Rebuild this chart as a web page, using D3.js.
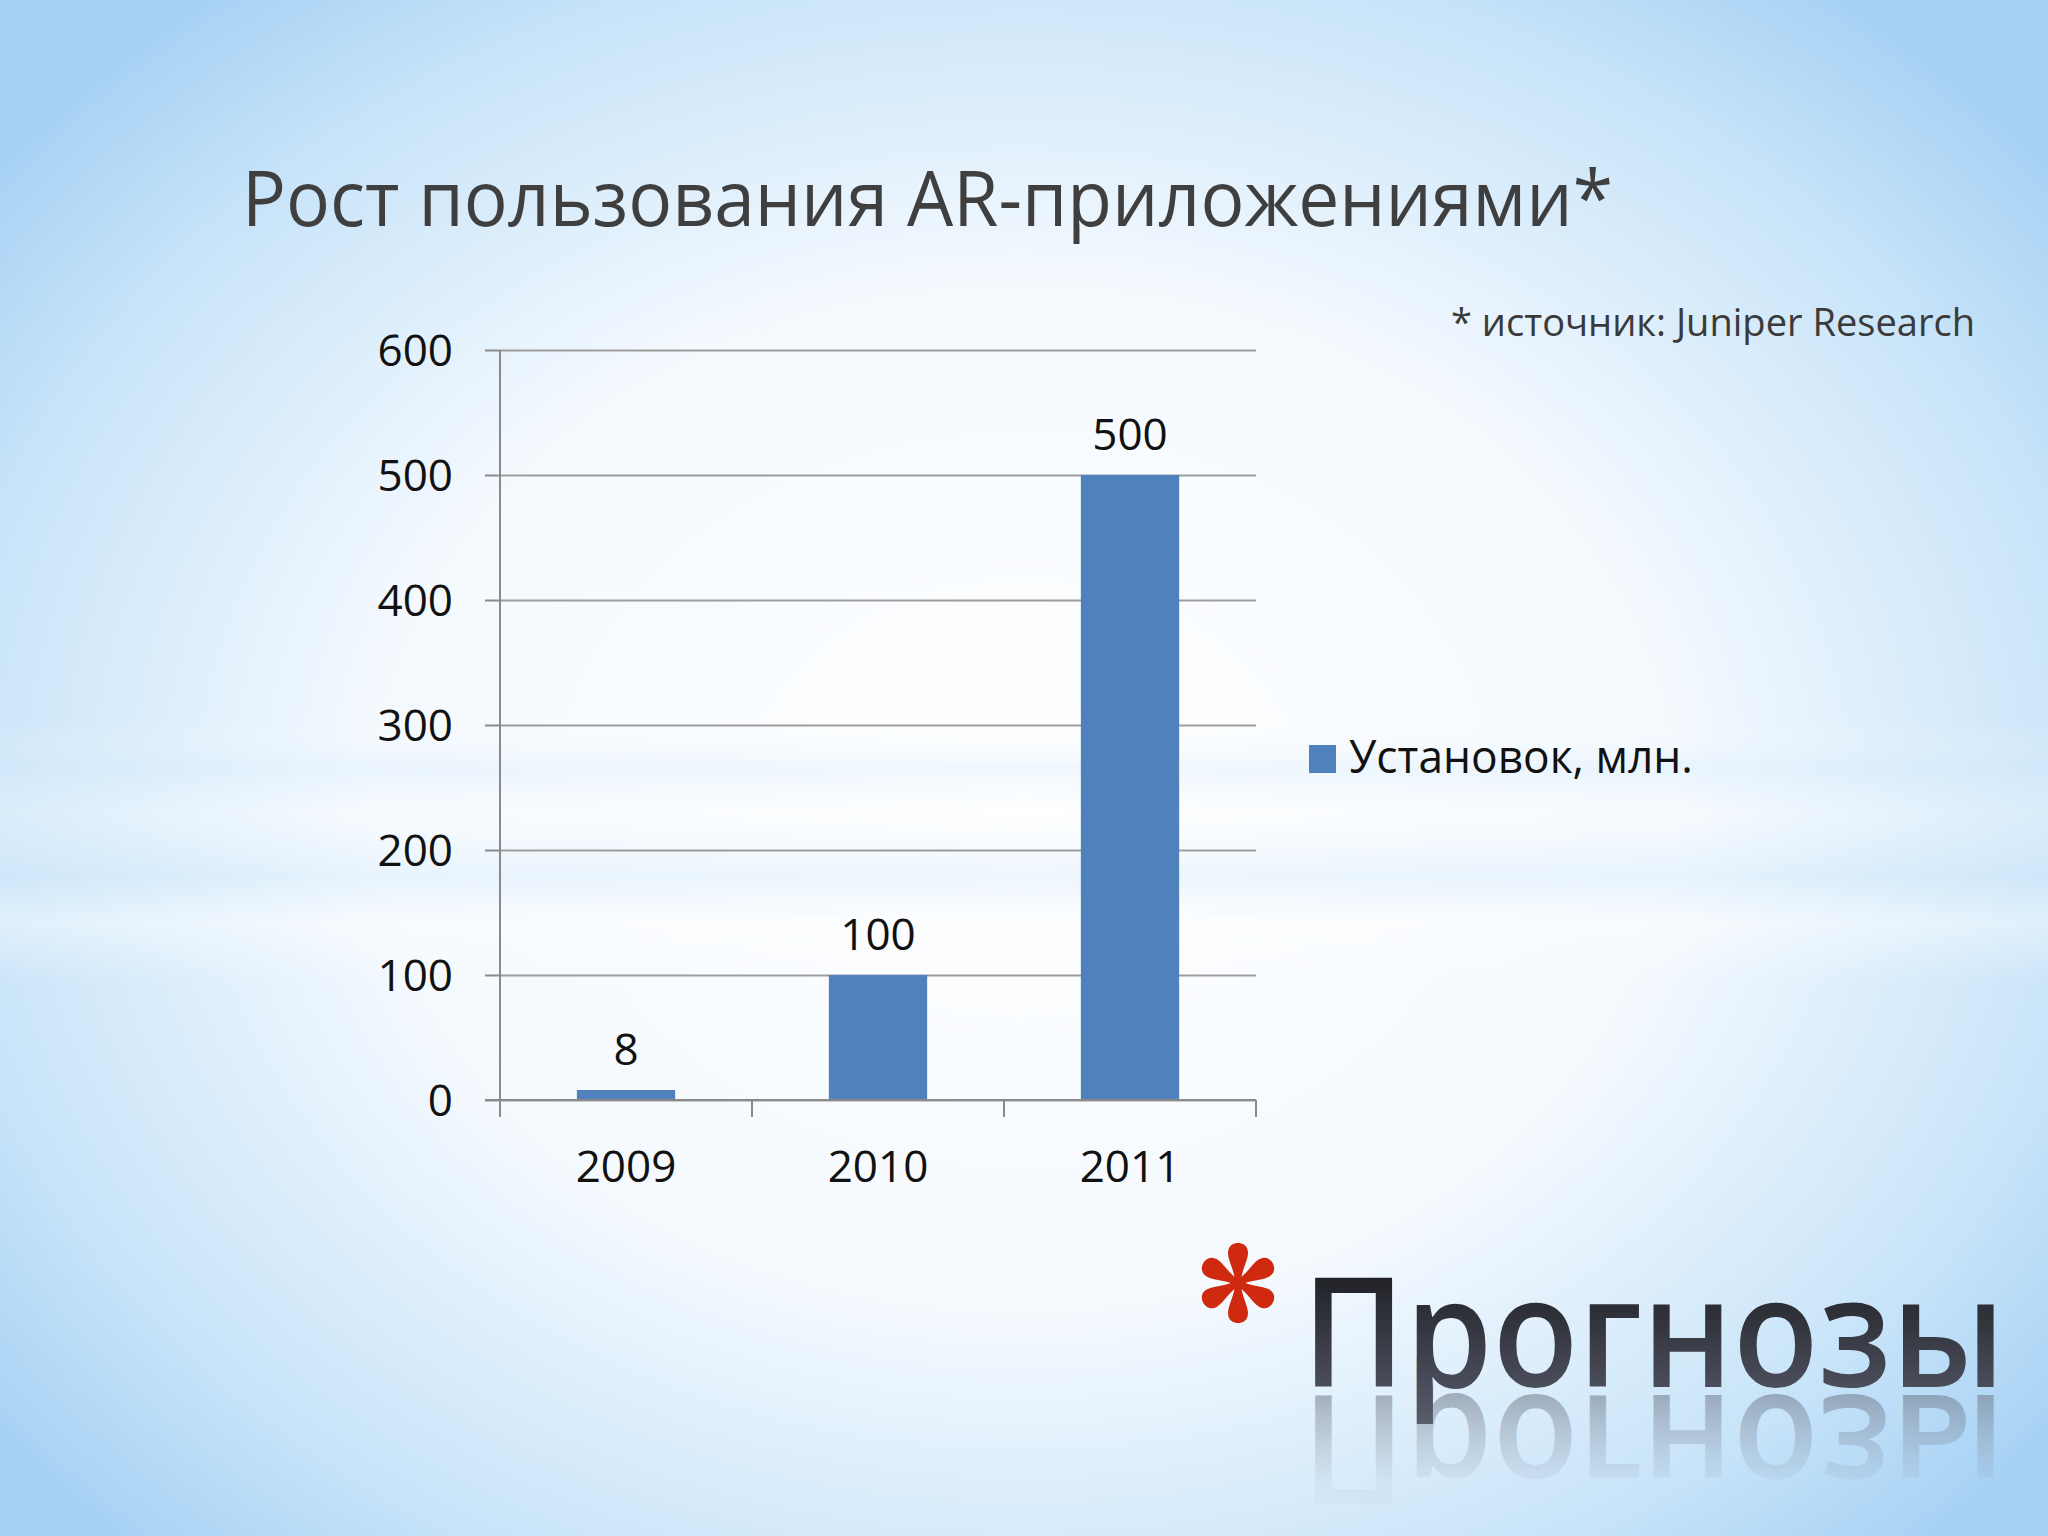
<!DOCTYPE html>
<html>
<head>
<meta charset="utf-8">
<script src="https://cdn.jsdelivr.net/npm/d3@7"></script>
<style>
  html, body { margin: 0; padding: 0; overflow: hidden; }
  svg { display: block; }
</style>
</head>
<body>
<svg id="chart" width="2048" height="1536"></svg>
<script>
var years = ['2009', '2010', '2011'];
var installs = [8, 100, 500];
var yTicks = [0, 100, 200, 300, 400, 500, 600];
var seriesName = 'Установок, млн.';
var titleText = 'Рост пользования AR-приложениями*';
var sourceText = '* источник: Juniper Research';
var bigWord = 'Прогнозы';

(function () {
    'use strict';

    var svg = d3.select('#chart');
    var W = 2048, H = 1536;
    var font = '"Open Sans", "Noto Sans", sans-serif';
    var defs = svg.append('defs');

    // background: blue edges, white centre, soft horizontal band
    var rg = defs.append('radialGradient').attr('id', 'bg')
        .attr('cx', '0.5').attr('cy', '0.52').attr('r', '0.64')
        .attr('gradientTransform', 'translate(0.5 0.52) scale(1 1.05) translate(-0.5 -0.52)');
    rg.append('stop').attr('offset', '0').attr('stop-color', '#ffffff');
    rg.append('stop').attr('offset', '0.5').attr('stop-color', '#f4f9fe');
    rg.append('stop').attr('offset', '0.82').attr('stop-color', '#c8e4f9');
    rg.append('stop').attr('offset', '1').attr('stop-color', '#a6d1f4');

    var band = defs.append('linearGradient').attr('id', 'band')
        .attr('x1', 0).attr('y1', 0).attr('x2', 0).attr('y2', 1);
    [[0, '#ffffff', 0], [0.47, '#ffffff', 0], [0.5, '#d6ebfb', 0.35], [0.53, '#ffffff', 0.25],
        [0.57, '#d0e8fa', 0.35], [0.6, '#ffffff', 0.4], [0.64, '#ffffff', 0], [1, '#ffffff', 0]]
        .forEach(function (s) {
            band.append('stop').attr('offset', s[0]).attr('stop-color', s[1]).attr('stop-opacity', s[2]);
        });

    svg.append('rect').attr('width', W).attr('height', H).attr('fill', '#b7dcf7');
    svg.append('rect').attr('width', W).attr('height', H).attr('fill', 'url(#bg)');
    svg.append('rect').attr('width', W).attr('height', H).attr('fill', 'url(#band)');

    // title + source
    svg.append('text')
        .attr('x', 242).attr('y', 226)
        .attr('font-family', font).attr('font-size', 76)
        .attr('textLength', 1371).attr('lengthAdjust', 'spacingAndGlyphs')
        .attr('fill', '#3f3f3f')
        .text(titleText);

    svg.append('text')
        .attr('x', 1975).attr('y', 336)
        .attr('text-anchor', 'end')
        .attr('font-family', font).attr('font-size', 38)
        .attr('textLength', 524).attr('lengthAdjust', 'spacingAndGlyphs')
        .attr('fill', '#3a3a3a')
        .text(sourceText);

    // chart
    var left = 500, right = 1256, top = 350, bottom = 1100;

    var x = d3.scaleBand().domain(years).range([left, right]).paddingInner(0.61).paddingOuter(0.305);
    var bandStep = (right - left) / years.length;
    var y = d3.scaleLinear().domain([0, 600]).range([bottom, top]);

    var g = svg.append('g');

    // gridlines
    g.append('g').attr('class', 'grid')
        .attr('transform', 'translate(' + left + ',0)')
        .call(d3.axisLeft(y).tickValues(yTicks).tickSize(-(right - left)).tickFormat(''))
        .call(function (s) {
            s.select('.domain').remove();
            s.selectAll('line').attr('stroke', '#9d9d9d').attr('stroke-width', 2);
        });

    // y axis
    g.append('g')
        .attr('transform', 'translate(' + left + ',0)')
        .call(d3.axisLeft(y).tickValues(yTicks).tickSize(15).tickSizeOuter(0).tickPadding(32))
        .call(function (s) {
            s.select('.domain').attr('stroke', '#8a8a8a').attr('stroke-width', 2)
                .attr('d', 'M0,' + top + 'V' + (bottom + 17));
            s.selectAll('line').attr('stroke', '#8a8a8a').attr('stroke-width', 2);
            s.selectAll('text').attr('font-family', font).attr('font-size', 44)
                .attr('fill', '#111').attr('dy', '0.36em');
        });

    // bars
    g.selectAll('rect.bar')
        .data(installs)
        .enter().append('rect')
        .attr('class', 'bar')
        .attr('x', function (d, i) { return x(years[i]); })
        .attr('width', x.bandwidth())
        .attr('y', function (d) { return y(d); })
        .attr('height', function (d) { return y(0) - y(d); })
        .attr('fill', '#4f81bd');

    // x axis
    var xAxis = g.append('g').attr('transform', 'translate(0,' + bottom + ')');
    xAxis.append('line')
        .attr('x1', left - 15).attr('x2', right)
        .attr('stroke', '#8a8a8a').attr('stroke-width', 2);
    xAxis.selectAll('line.tk')
        .data(d3.range(years.length + 1))
        .enter().append('line').attr('class', 'tk')
        .attr('x1', function (i) { return left + i * bandStep; })
        .attr('x2', function (i) { return left + i * bandStep; })
        .attr('y1', 0).attr('y2', 17)
        .attr('stroke', '#8a8a8a').attr('stroke-width', 2);
    xAxis.selectAll('text')
        .data(years)
        .enter().append('text')
        .attr('x', function (d) { return x(d) + x.bandwidth() / 2; })
        .attr('y', 82)
        .attr('text-anchor', 'middle')
        .attr('font-family', font).attr('font-size', 44).attr('fill', '#111')
        .text(function (d) { return d; });

    // value labels
    g.selectAll('text.val')
        .data(installs)
        .enter().append('text')
        .attr('class', 'val')
        .attr('x', function (d, i) { return x(years[i]) + x.bandwidth() / 2; })
        .attr('y', function (d) { return y(d) - 25; })
        .attr('text-anchor', 'middle')
        .attr('font-family', font).attr('font-size', 44).attr('fill', '#111')
        .text(function (d) { return d; });

    // legend
    var lg = svg.append('g').attr('transform', 'translate(1309,745)');
    lg.append('rect').attr('width', 27).attr('height', 28).attr('fill', '#4f81bd');
    lg.append('text').attr('x', 40).attr('y', 28)
        .attr('font-family', font).attr('font-size', 45).attr('fill', '#111')
        .attr('textLength', 344).attr('lengthAdjust', 'spacingAndGlyphs')
        .text(seriesName);

    // "Прогнозы" with reflection
    var wg = defs.append('linearGradient').attr('id', 'wordFill')
        .attr('x1', 0).attr('y1', 0).attr('x2', 0).attr('y2', 1);
    wg.append('stop').attr('offset', '0').attr('stop-color', '#0d0d0f');
    wg.append('stop').attr('offset', '1').attr('stop-color', '#5c6070');

    var rf = defs.append('linearGradient').attr('id', 'reflFill')
        .attr('x1', 0).attr('y1', 0).attr('x2', 0).attr('y2', 1);
    rf.append('stop').attr('offset', '0').attr('stop-color', '#8a96a6').attr('stop-opacity', 0);
    rf.append('stop').attr('offset', '0.35').attr('stop-color', '#8a96a6').attr('stop-opacity', 0.08);
    rf.append('stop').attr('offset', '0.8').attr('stop-color', '#6a7384').attr('stop-opacity', 0.55);
    rf.append('stop').attr('offset', '1').attr('stop-color', '#5a6272').attr('stop-opacity', 0.7);

    var baseY = 1387;
    // the reflection is a mirrored <use> of a glyph copy kept in defs
    defs.append('text').attr('id', 'wordShape')
        .attr('x', 1302).attr('y', baseY)
        .attr('font-family', font).attr('font-size', 152).attr('font-weight', 600)
        .attr('textLength', 703).attr('lengthAdjust', 'spacingAndGlyphs')
        .text(bigWord);

    svg.append('use')
        .attr('href', '#wordShape')
        .attr('transform', 'translate(0,' + (2 * baseY + 8) + ') scale(1,-1)')
        .attr('fill', 'url(#reflFill)');

    svg.append('text')
        .attr('x', 1302).attr('y', baseY)
        .attr('font-family', font).attr('font-size', 152).attr('font-weight', 600)
        .attr('textLength', 703).attr('lengthAdjust', 'spacingAndGlyphs')
        .attr('fill', 'url(#wordFill)')
        .text(bigWord);

    // red asterisk
    var star = svg.append('g').attr('transform', 'translate(1238,1283)');
    d3.range(6).forEach(function (i) {
        var a = i * 60 + 90;
        star.append('path')
            .attr('transform', 'rotate(' + a + ')')
            .attr('d', 'M0,-3 C12,-3 22,-10 30,-10 C38,-10 40,-4 40,0 C40,4 38,10 30,10 C22,10 12,3 0,3 Z')
            .attr('fill', '#cf2a10');
    });
}());
</script>
</body>
</html>
